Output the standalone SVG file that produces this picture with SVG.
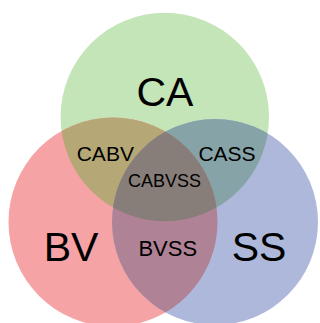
<svg xmlns="http://www.w3.org/2000/svg" width="320" height="323" viewBox="0 0 320 323">
<style>
text{font-family:"Liberation Sans",Arial,sans-serif;fill:#000;text-anchor:middle}
.big{font-size:41px}
.mid{font-size:21px}
.sm{font-size:18px}
</style>
<defs>
<clipPath id="cCA"><circle cx="164.8" cy="117" r="104.2"/></clipPath>
<clipPath id="cBV"><circle cx="113" cy="222" r="104.5"/></clipPath>
<clipPath id="cSS"><circle cx="215" cy="222" r="103"/></clipPath>
</defs>
<rect width="320" height="323" fill="#fff"/>
<g id="CA"><circle cx="164.8" cy="117" r="104.2" fill="#c4e5b8"/></g>
<g id="BV"><circle cx="113" cy="222" r="104.5" fill="#f6a3a6"/></g>
<g id="SS"><circle cx="215" cy="222" r="103" fill="#adb8da"/></g>
<g id="CABV"><g clip-path="url(#cBV)"><circle cx="164.8" cy="117" r="104.2" fill="#b6a876"/></g></g>
<g id="CASS"><g clip-path="url(#cSS)"><circle cx="164.8" cy="117" r="104.2" fill="#86a3a7"/></g></g>
<g id="BVSS"><g clip-path="url(#cSS)"><circle cx="113" cy="222" r="104.5" fill="#b08295"/></g></g>
<g id="CABVSS"><g clip-path="url(#cSS)"><g clip-path="url(#cBV)"><circle cx="164.8" cy="117" r="104.2" fill="#877e79"/></g></g></g>
<g id="labels">
<text class="big" x="165" y="106">CA</text>
<text class="big" x="71" y="261">BV</text>
<text class="big" x="259" y="261">SS</text>
<text class="mid" x="105.3" y="161">CABV</text>
<text class="mid" x="227" y="161">CASS</text>
<text class="sm" x="164.5" y="186.5">CABVSS</text>
<text class="mid" x="167.8" y="256" style="font-size:22px">BVSS</text>
</g>
</svg>
